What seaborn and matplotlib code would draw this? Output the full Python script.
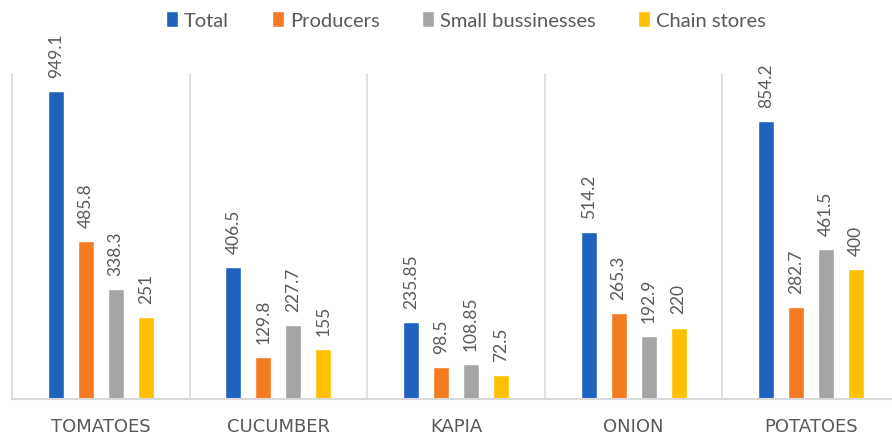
import matplotlib
matplotlib.use("Agg")
import matplotlib.pyplot as plt
import seaborn as sns
import pandas as pd

# Produce categories and the four series
categories = ["TOMATOES", "CUCUMBER", "KAPIA", "ONION", "POTATOES"]
series = ["Total", "Producers", "Small bussinesses", "Chain stores"]
total = [949.1, 406.5, 235.85, 514.2, 854.2]
producers = [485.8, 129.8, 98.5, 265.3, 282.7]
small_businesses = [338.3, 227.7, 108.85, 192.9, 461.5]
chain_stores = [251, 155, 72.5, 220, 400]
label_text = {
    "Total": ["949.1", "406.5", "235.85", "514.2", "854.2"],
    "Producers": ["485.8", "129.8", "98.5", "265.3", "282.7"],
    "Small bussinesses": ["338.3", "227.7", "108.85", "192.9", "461.5"],
    "Chain stores": ["251", "155", "72.5", "220", "400"],
}
colors = ["#2063BF", "#F57B20", "#A5A5A5", "#FFC000"]

rows = []
for name, vals in zip(series, [total, producers, small_businesses, chain_stores]):
    for cat, v in zip(categories, vals):
        rows.append({"category": cat, "series": name, "value": v})
df = pd.DataFrame(rows)

sns.set_style("white")
plt.rcParams["font.family"] = ["Lato", "DejaVu Sans"]
text_grey = "#595959"
line_grey = "#D9D9D9"

fig = plt.figure(figsize=(8.92, 4.35), dpi=100)
W, H = 892, 435
cat_w = 177.6
ax = fig.add_axes([12 / W, 35 / H, 5 * cat_w / W, 325 / H])

sns.barplot(data=df, x="category", y="value", hue="series", order=categories,
            hue_order=series, palette=colors, width=0.676, gap=0.47,
            saturation=1, ax=ax, legend=True)

ax.set_ylim(0, 1000)
ax.set_xlim(-0.5, 4.5)

# value labels above each bar, rotated
for container, name in zip(ax.containers, series):
    for patch, txt in zip(container.patches, label_text[name]):
        x = patch.get_x() + patch.get_width() / 2
        ax.annotate(txt, (x, patch.get_height()), xytext=(0, 14),
                    textcoords="offset pixels", rotation=90, ha="center",
                    va="bottom", fontsize=12.5, color=text_grey)

# category separators
for xs in [-0.5, 0.5, 1.5, 2.5, 3.5, 4.5]:
    ax.plot([xs, xs], [0, 1000], color=line_grey, lw=1.2, clip_on=False, zorder=0)

for side in ["left", "right", "top"]:
    ax.spines[side].set_visible(False)
ax.spines["bottom"].set_color(line_grey)
ax.spines["bottom"].set_linewidth(1.5)
ax.set_yticks([])
ax.set_xlabel("")
ax.set_ylabel("")
ax.tick_params(axis="x", length=0, pad=13, labelsize=13, colors=text_grey)
for t in ax.get_xticklabels():
    t.set_fontfamily(["DejaVu Sans"])

handles, labels = ax.get_legend_handles_labels()
ax.legend_.remove()
fig.legend(handles, labels, loc="center", bbox_to_anchor=(466 / W, 1 - 21 / H),
           ncol=4, frameon=False, fontsize=14.5, handlelength=0.6,
           handleheight=0.8, handletextpad=0.3, columnspacing=2.1,
           labelcolor=text_grey)

fig.savefig("out.png", dpi=100)
